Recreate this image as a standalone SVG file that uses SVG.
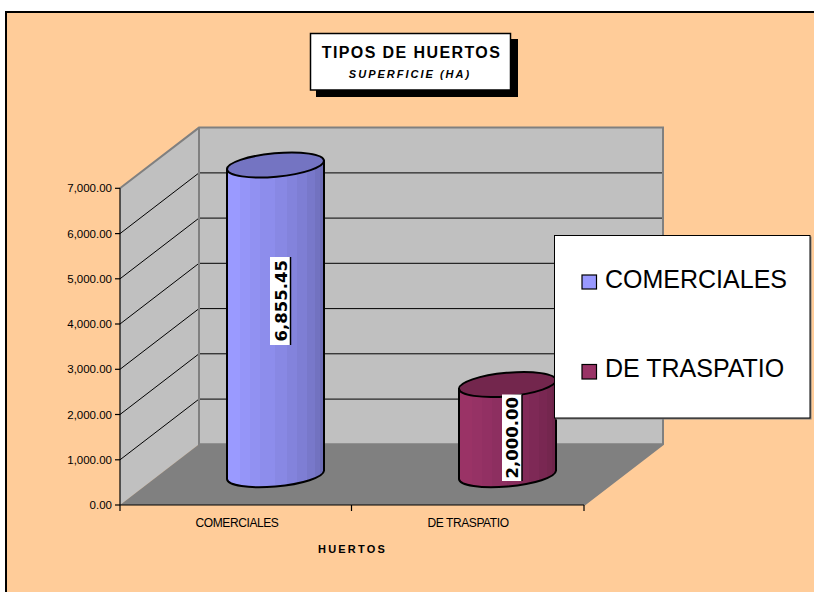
<svg xmlns="http://www.w3.org/2000/svg" width="814" height="592" viewBox="0 0 814 592">
<style>
.ax{font-family:"Liberation Sans",Arial,sans-serif;font-size:11.5px;fill:#000;text-anchor:end}
.cat{font-family:"Liberation Sans",Arial,sans-serif;font-size:12px;fill:#000;text-anchor:middle;letter-spacing:-0.4px}
.wall{stroke:#808080;stroke-width:2;fill:none}
.grid{stroke:#000;stroke-width:1}
.bar{stroke:#000;stroke-width:2;stroke-linejoin:round}
.dl{font-family:"DejaVu Sans",sans-serif;font-weight:bold;font-size:16.5px;fill:#000;text-anchor:middle}
.lg{font-family:"Liberation Sans",Arial,sans-serif;font-size:25px;fill:#000}
</style>
<defs>
<linearGradient id="g1" x1="0" y1="0" x2="1" y2="0">
<stop offset="0" stop-color="#9A9AFF"/><stop offset="0.134" stop-color="#9A9AFF"/>
<stop offset="0.134" stop-color="#9595F8"/><stop offset="0.237" stop-color="#9595F8"/>
<stop offset="0.237" stop-color="#9191F2"/><stop offset="0.34" stop-color="#9191F2"/>
<stop offset="0.34" stop-color="#8D8DEC"/><stop offset="0.495" stop-color="#8D8DEC"/>
<stop offset="0.495" stop-color="#8888E4"/><stop offset="0.619" stop-color="#8888E4"/>
<stop offset="0.619" stop-color="#8383DC"/><stop offset="0.722" stop-color="#8383DC"/>
<stop offset="0.722" stop-color="#7E7ED4"/><stop offset="0.825" stop-color="#7E7ED4"/>
<stop offset="0.825" stop-color="#7878CA"/><stop offset="0.907" stop-color="#7878CA"/>
<stop offset="0.907" stop-color="#7272C0"/><stop offset="0.959" stop-color="#7272C0"/>
<stop offset="0.959" stop-color="#6C6CB6"/><stop offset="1" stop-color="#6C6CB6"/>
</linearGradient>
<linearGradient id="g2" x1="0" y1="0" x2="1" y2="0">
<stop offset="0" stop-color="#9A3366"/><stop offset="0.134" stop-color="#9A3366"/>
<stop offset="0.134" stop-color="#963265"/><stop offset="0.237" stop-color="#963265"/>
<stop offset="0.237" stop-color="#923063"/><stop offset="0.34" stop-color="#923063"/>
<stop offset="0.34" stop-color="#8D2F60"/><stop offset="0.495" stop-color="#8D2F60"/>
<stop offset="0.495" stop-color="#882D5D"/><stop offset="0.619" stop-color="#882D5D"/>
<stop offset="0.619" stop-color="#832B59"/><stop offset="0.722" stop-color="#832B59"/>
<stop offset="0.722" stop-color="#7E2956"/><stop offset="0.825" stop-color="#7E2956"/>
<stop offset="0.825" stop-color="#792752"/><stop offset="0.907" stop-color="#792752"/>
<stop offset="0.907" stop-color="#74264E"/><stop offset="0.959" stop-color="#74264E"/>
<stop offset="0.959" stop-color="#6E244A"/><stop offset="1" stop-color="#6E244A"/>
</linearGradient>
</defs>
<rect x="0" y="0" width="814" height="592" fill="#FFFFFF"/>
<g id="chartarea">
<rect x="6" y="12" width="808" height="580" fill="#FFCC99"/>
<path d="M6,592 L6,12 L814,12" fill="none" stroke="#000" stroke-width="2"/>
</g>

<g id="plot">
<polygon points="199,127.6 663,127.6 663,444.3 199,444.3" fill="#C0C0C0"/>
<polygon points="120,188.3 199,127.6 199,444.3 120,505" fill="#C0C0C0"/>
<polygon points="120,505 199,444.3 663,444.3 584,505" fill="#808080"/>
<g class="grid">
<line x1="199" y1="172.9" x2="663" y2="172.9"/>
<line x1="199" y1="218.1" x2="663" y2="218.1"/>
<line x1="199" y1="263.3" x2="663" y2="263.3"/>
<line x1="199" y1="308.6" x2="663" y2="308.6"/>
<line x1="199" y1="353.8" x2="663" y2="353.8"/>
<line x1="199" y1="399.1" x2="663" y2="399.1"/>
<line x1="120" y1="233.6" x2="199" y2="172.9"/>
<line x1="120" y1="278.8" x2="199" y2="218.1"/>
<line x1="120" y1="324" x2="199" y2="263.3"/>
<line x1="120" y1="369.3" x2="199" y2="308.6"/>
<line x1="120" y1="414.5" x2="199" y2="353.8"/>
<line x1="120" y1="459.8" x2="199" y2="399.1"/>
</g>
<path class="wall" d="M120,188.3 L199,127.6 L663,127.6 L663,444.3 L584,505 M199,127.6 L199,444.3 L663,444.3"/>
</g>

<g id="axes" stroke="#000" stroke-width="1.2">
<line x1="120" y1="188.3" x2="120" y2="505"/>
<line x1="120" y1="505" x2="584" y2="505"/>
<line x1="115" y1="188.3" x2="120" y2="188.3"/>
<line x1="115" y1="233.6" x2="120" y2="233.6"/>
<line x1="115" y1="278.8" x2="120" y2="278.8"/>
<line x1="115" y1="324" x2="120" y2="324"/>
<line x1="115" y1="369.3" x2="120" y2="369.3"/>
<line x1="115" y1="414.5" x2="120" y2="414.5"/>
<line x1="115" y1="459.8" x2="120" y2="459.8"/>
<line x1="115" y1="505" x2="120" y2="505"/>
<line x1="120" y1="505" x2="120" y2="511"/>
<line x1="351.5" y1="505" x2="351.5" y2="511"/>
<line x1="584" y1="505" x2="584" y2="511"/>
</g>
<g id="ylabels">
<text class="ax" x="112" y="192.3">7,000.00</text>
<text class="ax" x="112" y="237.6">6,000.00</text>
<text class="ax" x="112" y="282.8">5,000.00</text>
<text class="ax" x="112" y="328">4,000.00</text>
<text class="ax" x="112" y="373.3">3,000.00</text>
<text class="ax" x="112" y="418.5">2,000.00</text>
<text class="ax" x="112" y="463.8">1,000.00</text>
<text class="ax" x="112" y="509">0.00</text>
</g>
<g id="xlabels">
<text class="cat" x="237" y="527">COMERCIALES</text>
<text class="cat" x="468" y="527">DE TRASPATIO</text>
<text x="352.5" y="553" font-family="Liberation Sans, Arial, sans-serif" font-size="11px" font-weight="bold" letter-spacing="2.2" text-anchor="middle">HUERTOS</text>
</g>

<g id="bar-comerciales">
<path class="bar" fill="url(#g1)" d="M227,169.2 L227,479.2 A48.7,11.7 -5.24 0 0 324,470.8 L324,160.8 Z"/>
<ellipse class="bar" cx="275.5" cy="165" rx="48.7" ry="11.7" fill="#7474C2" transform="rotate(-5.24 275.5 165)"/>
<rect x="270" y="257" width="20" height="88" fill="#FFFFFF"/>
<line x1="290.5" y1="257" x2="290.5" y2="345" stroke="#000" stroke-width="1.5"/>
<text class="dl" transform="translate(286.8,300.8) rotate(-90)">6,855.45</text>
</g>

<g id="bar-traspatio">
<path class="bar" fill="url(#g2)" d="M459,388.7 L459,479.2 A48.7,11.7 -5.24 0 0 556,470.8 L556,380.3 Z"/>
<ellipse class="bar" cx="507.5" cy="384.5" rx="48.7" ry="11.7" fill="#73264D" transform="rotate(-5.24 507.5 384.5)"/>
<rect x="502" y="394.5" width="20" height="86.5" fill="#FFFFFF"/>
<line x1="522" y1="394.5" x2="522" y2="481" stroke="#000" stroke-width="1.5"/>
<text class="dl" transform="translate(518.3,437.8) rotate(-90)">2,000.00</text>
</g>

<g id="legend">
<rect x="555.5" y="236.5" width="256" height="183" fill="#808080"/>
<rect x="554.5" y="235.5" width="255.5" height="182.5" fill="#FFFFFF" stroke="#000" stroke-width="1"/>
<rect x="582" y="275" width="14.5" height="14" fill="#9999FF" stroke="#000" stroke-width="1.2"/>
<text class="lg" x="605" y="288">COMERCIALES</text>
<rect x="582" y="364.5" width="14.5" height="14.5" fill="#993366" stroke="#000" stroke-width="1.2"/>
<text class="lg" x="605" y="377">DE TRASPATIO</text>
</g>

<g id="title">
<rect x="316" y="39" width="202" height="58" fill="#000"/>
<rect x="310.5" y="33.5" width="200" height="56.5" fill="#FFFFFF" stroke="#000" stroke-width="1.5"/>
<text x="411.5" y="58" font-family="Liberation Sans, Arial, sans-serif" font-size="16px" font-weight="bold" letter-spacing="1.4" text-anchor="middle">TIPOS DE HUERTOS</text>
<text x="410" y="78" font-family="Liberation Sans, Arial, sans-serif" font-size="11px" font-weight="bold" font-style="italic" letter-spacing="2" text-anchor="middle">SUPERFICIE (HA)</text>
</g>
</svg>
